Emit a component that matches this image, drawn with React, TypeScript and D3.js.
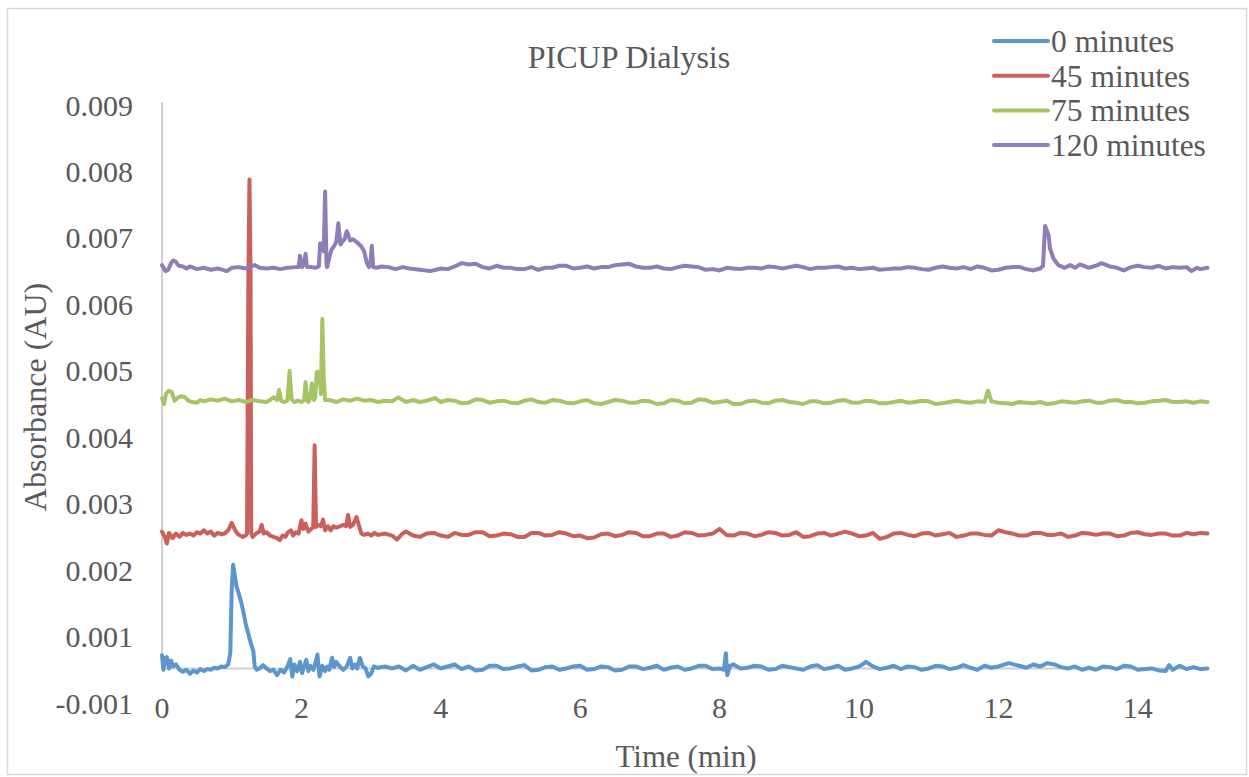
import React from "react";
import * as d3 from "d3";

// ---- Data: [time (min), absorbance (mAU = 0.001 AU)] ----
const seriesNames = ["0 minutes", "45 minutes", "75 minutes", "120 minutes"];
const seriesColors = ["#5B96CE", "#CB5F59", "#A6C466", "#8F7DB8"];

const s0: [number, number][] = [[0,0.72],[0.02,0.50],[0.05,0.68],[0.07,0.69],[0.1,0.52],[0.13,0.64],[0.16,0.55],[0.2,0.58],[0.25,0.50],[0.3,0.47],[0.35,0.50],[0.4,0.44],[0.45,0.49],[0.5,0.46],[0.55,0.51],[0.6,0.48],[0.65,0.51],[0.7,0.50],[0.75,0.53],[0.8,0.52],[0.85,0.55],[0.9,0.54],[0.95,0.58],[0.98,0.75],[1.0,1.7],[1.02,2.08],[1.04,1.95],[1.07,1.75],[1.1,1.65],[1.14,1.5],[1.17,1.36],[1.19,1.25],[1.21,1.15],[1.24,1.04],[1.26,0.95],[1.29,0.85],[1.31,0.78],[1.33,0.55],[1.36,0.50],[1.4,0.52],[1.45,0.57],[1.5,0.52],[1.55,0.48],[1.6,0.50],[1.65,0.42],[1.7,0.50],[1.75,0.46],[1.8,0.55],[1.84,0.66],[1.87,0.40],[1.9,0.58],[1.94,0.48],[1.98,0.62],[2.01,0.45],[2.04,0.56],[2.07,0.65],[2.1,0.48],[2.13,0.56],[2.17,0.50],[2.2,0.60],[2.23,0.73],[2.26,0.40],[2.3,0.56],[2.34,0.48],[2.37,0.55],[2.4,0.50],[2.44,0.68],[2.47,0.54],[2.5,0.62],[2.55,0.55],[2.6,0.50],[2.65,0.55],[2.7,0.68],[2.73,0.52],[2.77,0.58],[2.8,0.52],[2.84,0.68],[2.88,0.55],[2.92,0.52],[2.96,0.40],[3.0,0.44],[3.04,0.55],[3.1,0.53],[3.2,0.55],[3.3,0.52],[3.4,0.55],
[3.5,0.49],[3.6,0.56],[3.7,0.50],[3.8,0.54],[3.9,0.58],[4.0,0.52],[4.1,0.55],[4.2,0.58],[4.3,0.51],[4.4,0.55],[4.5,0.49],[4.6,0.50],[4.7,0.56],[4.8,0.56],[4.9,0.51],[5.0,0.52],[5.1,0.55],[5.2,0.57],[5.3,0.49],[5.4,0.50],[5.5,0.54],[5.6,0.55],[5.7,0.50],[5.8,0.52],[5.9,0.55],[6.0,0.56],[6.1,0.50],[6.2,0.51],[6.3,0.55],[6.4,0.54],[6.5,0.49],[6.6,0.50],[6.7,0.55],[6.8,0.55],[6.9,0.51],[7.0,0.53],[7.1,0.56],[7.2,0.50],[7.3,0.53],[7.4,0.55],[7.5,0.50],[7.6,0.52],[7.7,0.56],[7.8,0.56],[7.9,0.51],[8.0,0.52],[8.06,0.50],[8.09,0.75],[8.11,0.42],[8.15,0.56],[8.2,0.58],[8.3,0.52],[8.4,0.53],[8.5,0.56],[8.6,0.55],[8.7,0.50],[8.8,0.51],[8.9,0.56],[9.0,0.54],[9.1,0.52],[9.2,0.50],[9.3,0.55],[9.4,0.57],[9.5,0.51],[9.6,0.53],[9.7,0.56],[9.8,0.50],[9.9,0.52],[10.0,0.55],[10.05,0.58],[10.1,0.62],[10.2,0.55],[10.3,0.51],[10.4,0.53],[10.5,0.56],[10.6,0.51],[10.7,0.55],[10.8,0.54],[10.9,0.50],[11.0,0.52],[11.1,0.56],[11.2,0.55],[11.3,0.51],[11.4,0.53],[11.5,0.57],[11.6,0.53],[11.7,0.50],[11.8,0.56],[11.9,0.53],[12.0,0.55],[12.15,0.60],[12.3,0.56],[12.4,0.53],[12.5,0.58],[12.6,0.55],[12.7,0.60],[12.8,0.58],[12.9,0.54],[13.0,0.52],[13.1,0.55],[13.2,0.50],[13.3,0.53],[13.4,0.50],[13.5,0.55],[13.6,0.54],[13.7,0.51],[13.8,0.56],[13.9,0.55],[14.0,0.50],[14.1,0.51],[14.2,0.52],[14.3,0.49],[14.4,0.48],[14.45,0.57],[14.5,0.50],[14.6,0.56],[14.7,0.51],[14.8,0.54],[14.9,0.51],[15.0,0.52]];

const s45: [number, number][] = [[0,2.58],[0.04,2.50],[0.07,2.40],[0.1,2.56],[0.15,2.48],[0.2,2.55],[0.25,2.50],[0.3,2.56],[0.35,2.53],[0.4,2.55],[0.45,2.52],[0.5,2.57],[0.55,2.55],[0.6,2.60],[0.65,2.55],[0.7,2.58],[0.75,2.52],[0.8,2.56],[0.85,2.54],[0.9,2.55],[0.95,2.60],[1.0,2.71],[1.04,2.62],[1.08,2.55],[1.12,2.52],[1.16,2.50],[1.2,2.52],[1.22,2.55],[1.24,6.5],[1.255,7.88],[1.27,6.5],[1.28,2.55],[1.3,2.50],[1.35,2.55],[1.4,2.58],[1.43,2.68],[1.46,2.55],[1.5,2.57],[1.55,2.52],[1.6,2.50],[1.65,2.48],[1.69,2.45],[1.73,2.52],[1.77,2.50],[1.8,2.56],[1.85,2.60],[1.88,2.52],[1.92,2.57],[1.96,2.55],[2.0,2.75],[2.03,2.62],[2.06,2.70],[2.1,2.58],[2.14,2.62],[2.17,2.64],[2.19,3.88],[2.21,2.65],[2.24,2.68],[2.28,2.66],[2.31,2.76],[2.34,2.60],[2.38,2.66],[2.42,2.60],[2.46,2.66],[2.5,2.64],[2.55,2.66],[2.6,2.68],[2.64,2.66],[2.67,2.83],[2.7,2.65],[2.74,2.68],[2.79,2.80],[2.83,2.66],[2.86,2.55],[2.9,2.53],[2.95,2.55],[3.0,2.52],[3.05,2.56],[3.1,2.53],[3.2,2.55],[3.3,2.52],[3.37,2.46],[3.45,2.55],
[3.5,2.58],[3.6,2.52],[3.7,2.50],[3.8,2.55],[3.9,2.56],[4.0,2.52],[4.1,2.50],[4.2,2.56],[4.3,2.53],[4.4,2.53],[4.5,2.57],[4.6,2.57],[4.7,2.51],[4.8,2.52],[4.9,2.55],[5.0,2.54],[5.1,2.50],[5.2,2.50],[5.3,2.56],[5.4,2.56],[5.5,2.52],[5.6,2.53],[5.7,2.57],[5.8,2.55],[5.9,2.51],[6.0,2.52],[6.1,2.48],[6.2,2.49],[6.3,2.54],[6.4,2.55],[6.5,2.51],[6.6,2.53],[6.7,2.57],[6.8,2.56],[6.9,2.51],[7.0,2.51],[7.1,2.55],[7.2,2.55],[7.3,2.50],[7.4,2.52],[7.5,2.57],[7.6,2.56],[7.7,2.52],[7.8,2.53],[7.9,2.55],[8.0,2.62],[8.1,2.53],[8.2,2.52],[8.3,2.56],[8.4,2.55],[8.5,2.51],[8.6,2.53],[8.7,2.57],[8.8,2.56],[8.9,2.52],[9.0,2.53],[9.1,2.57],[9.2,2.50],[9.3,2.51],[9.4,2.55],[9.5,2.56],[9.6,2.52],[9.7,2.55],[9.8,2.58],[9.9,2.55],[10.0,2.51],[10.1,2.52],[10.2,2.56],[10.3,2.47],[10.4,2.50],[10.5,2.55],[10.6,2.56],[10.7,2.53],[10.8,2.51],[10.9,2.55],[11.0,2.56],[11.1,2.52],[11.2,2.54],[11.3,2.56],[11.4,2.50],[11.5,2.52],[11.6,2.55],[11.7,2.55],[11.8,2.53],[11.9,2.52],[12.0,2.60],[12.1,2.57],[12.2,2.55],[12.3,2.52],[12.4,2.52],[12.5,2.56],[12.6,2.56],[12.7,2.53],[12.8,2.53],[12.9,2.55],[13.0,2.50],[13.1,2.52],[13.2,2.56],[13.3,2.55],[13.4,2.53],[13.5,2.55],[13.6,2.55],[13.7,2.51],[13.8,2.52],[13.9,2.56],[14.0,2.57],[14.1,2.54],[14.2,2.53],[14.3,2.55],[14.4,2.55],[14.5,2.52],[14.6,2.52],[14.7,2.56],[14.8,2.54],[14.9,2.56],[15.0,2.55]];

const s75: [number, number][] = [[0,4.59],[0.03,4.50],[0.06,4.66],[0.1,4.70],[0.14,4.68],[0.18,4.55],[0.23,4.60],[0.28,4.62],[0.33,4.60],[0.38,4.55],[0.43,4.53],[0.5,4.52],[0.55,4.56],[0.6,4.54],[0.7,4.57],[0.8,4.55],[0.9,4.58],[1.0,4.54],[1.1,4.56],[1.2,4.53],[1.3,4.56],[1.4,4.54],[1.5,4.53],[1.55,4.56],[1.6,4.60],[1.65,4.56],[1.68,4.71],[1.71,4.55],[1.75,4.53],[1.8,4.55],[1.83,5.0],[1.86,4.57],[1.9,4.53],[1.95,4.55],[2.0,4.53],[2.04,4.56],[2.06,4.83],[2.08,4.56],[2.1,4.53],[2.12,4.57],[2.15,4.81],[2.18,4.56],[2.2,4.60],[2.22,4.98],[2.26,4.98],[2.28,4.65],[2.3,5.78],[2.32,4.90],[2.34,4.56],[2.4,4.56],[2.5,4.53],[2.6,4.57],[2.7,4.55],[2.8,4.58],[2.9,4.55],[3.0,4.56],[3.1,4.53],[3.2,4.55],[3.3,4.54],[3.39,4.60],[3.5,4.53],[3.6,4.56],[3.7,4.53],[3.8,4.55],[3.92,4.59],[4.0,4.53],
[4.1,4.56],[4.2,4.55],[4.3,4.51],[4.4,4.52],[4.5,4.57],[4.6,4.56],[4.7,4.52],[4.8,4.54],[4.9,4.55],[5.0,4.52],[5.1,4.51],[5.2,4.55],[5.3,4.57],[5.4,4.53],[5.5,4.52],[5.6,4.56],[5.7,4.55],[5.8,4.52],[5.9,4.51],[6.0,4.54],[6.1,4.56],[6.2,4.51],[6.3,4.50],[6.4,4.53],[6.5,4.56],[6.6,4.55],[6.7,4.52],[6.8,4.52],[6.9,4.55],[7.0,4.54],[7.1,4.50],[7.2,4.51],[7.3,4.56],[7.4,4.55],[7.5,4.51],[7.6,4.52],[7.7,4.57],[7.8,4.56],[7.9,4.52],[8.0,4.53],[8.1,4.55],[8.2,4.50],[8.3,4.50],[8.4,4.54],[8.5,4.55],[8.6,4.52],[8.7,4.51],[8.8,4.55],[8.9,4.56],[9.0,4.53],[9.1,4.52],[9.2,4.50],[9.3,4.54],[9.4,4.54],[9.5,4.51],[9.6,4.52],[9.7,4.55],[9.8,4.56],[9.9,4.52],[10.0,4.52],[10.1,4.55],[10.2,4.54],[10.3,4.51],[10.4,4.51],[10.5,4.53],[10.6,4.55],[10.7,4.52],[10.8,4.53],[10.9,4.55],[11.0,4.54],[11.1,4.50],[11.2,4.51],[11.3,4.53],[11.4,4.55],[11.5,4.53],[11.6,4.52],[11.7,4.54],[11.8,4.53],[11.85,4.70],[11.9,4.54],[12.0,4.52],[12.1,4.51],[12.2,4.50],[12.3,4.53],[12.4,4.52],[12.5,4.51],[12.6,4.53],[12.7,4.50],[12.8,4.51],[12.9,4.54],[13.0,4.53],[13.1,4.52],[13.2,4.54],[13.3,4.55],[13.4,4.52],[13.5,4.52],[13.6,4.55],[13.7,4.56],[13.8,4.53],[13.9,4.53],[14.0,4.51],[14.1,4.52],[14.2,4.54],[14.3,4.55],[14.4,4.56],[14.5,4.53],[14.6,4.53],[14.7,4.54],[14.8,4.52],[14.9,4.54],[15.0,4.53]];

const s120: [number, number][] = [[0,6.59],[0.05,6.50],[0.09,6.52],[0.13,6.62],[0.16,6.66],[0.2,6.64],[0.24,6.58],[0.3,6.57],[0.35,6.54],[0.4,6.57],[0.5,6.53],[0.6,6.55],[0.7,6.52],[0.8,6.54],[0.93,6.50],[1.0,6.55],[1.1,6.56],[1.2,6.54],[1.33,6.59],[1.4,6.55],[1.5,6.54],[1.6,6.55],[1.7,6.53],[1.8,6.55],[1.93,6.56],[1.96,6.56],[1.98,6.73],[2.01,6.56],[2.04,6.62],[2.06,6.76],[2.08,6.56],[2.15,6.56],[2.2,6.55],[2.25,6.57],[2.27,6.92],[2.3,6.88],[2.32,6.80],[2.34,7.70],[2.36,6.60],[2.37,6.56],[2.4,6.70],[2.43,6.82],[2.47,6.88],[2.5,6.94],[2.53,7.22],[2.56,6.90],[2.6,6.96],[2.62,6.98],[2.65,7.10],[2.67,7.05],[2.7,6.96],[2.74,6.98],[2.79,6.94],[2.83,6.90],[2.86,6.87],[2.9,6.80],[2.94,6.62],[2.97,6.56],[2.99,6.60],[3.01,6.88],[3.03,6.56],[3.08,6.55],[3.15,6.57],[3.25,6.56],[3.35,6.53],[3.45,6.56],[3.55,6.54],[3.7,6.52],[3.85,6.50],[4.0,6.54],
[4.1,6.53],[4.2,6.57],[4.3,6.62],[4.4,6.60],[4.5,6.61],[4.6,6.56],[4.7,6.54],[4.8,6.58],[4.9,6.55],[5.0,6.55],[5.1,6.53],[5.2,6.53],[5.3,6.56],[5.4,6.52],[5.5,6.55],[5.6,6.55],[5.7,6.58],[5.8,6.58],[5.9,6.54],[6.0,6.55],[6.1,6.57],[6.2,6.54],[6.3,6.56],[6.4,6.56],[6.5,6.59],[6.6,6.60],[6.7,6.61],[6.8,6.57],[6.9,6.55],[7.0,6.55],[7.1,6.57],[7.2,6.54],[7.3,6.53],[7.4,6.56],[7.5,6.58],[7.6,6.57],[7.7,6.56],[7.8,6.52],[7.9,6.53],[8.0,6.51],[8.1,6.55],[8.2,6.54],[8.3,6.53],[8.4,6.55],[8.5,6.55],[8.6,6.54],[8.7,6.57],[8.8,6.56],[8.9,6.54],[9.0,6.56],[9.1,6.58],[9.2,6.56],[9.3,6.53],[9.4,6.55],[9.5,6.55],[9.6,6.56],[9.7,6.57],[9.8,6.54],[9.9,6.55],[10.0,6.53],[10.1,6.54],[10.2,6.55],[10.3,6.52],[10.4,6.53],[10.5,6.54],[10.6,6.54],[10.7,6.56],[10.8,6.55],[10.9,6.53],[11.0,6.52],[11.1,6.55],[11.2,6.57],[11.3,6.55],[11.4,6.54],[11.5,6.56],[11.6,6.53],[11.7,6.57],[11.8,6.55],[11.9,6.51],[12.0,6.52],[12.1,6.55],[12.2,6.56],[12.31,6.56],[12.4,6.53],[12.5,6.51],[12.6,6.54],[12.64,6.58],[12.67,7.18],[12.72,7.04],[12.74,6.84],[12.79,6.69],[12.86,6.59],[12.95,6.55],[13.03,6.59],[13.1,6.55],[13.17,6.60],[13.3,6.55],[13.4,6.58],[13.48,6.62],[13.6,6.57],[13.7,6.55],[13.8,6.51],[13.9,6.56],[14.0,6.58],[14.1,6.56],[14.2,6.55],[14.3,6.58],[14.4,6.54],[14.5,6.56],[14.6,6.55],[14.7,6.56],[14.77,6.50],[14.85,6.55],[14.9,6.53],[15.0,6.55]];

const seriesData = [s0, s45, s75, s120];

const xTicks = [0, 2, 4, 6, 8, 10, 12, 14];
const yTicks = [0.001, 0.002, 0.003, 0.004, 0.005, 0.006, 0.007, 0.008, 0.009];
const yBottomLabel = "-0.001";
const title = "PICUP Dialysis";
const xTitle = "Time (min)";
const yTitle = "Absorbance (AU)";

export default function App() {
  const W = 1249, H = 777;
  const x = d3.scaleLinear().domain([0, 15]).range([162, 1207.5]);
  const y = d3.scaleLinear().domain([0, 0.009]).range([703, 105]);
  const axisCross = 0.00052;
  const fs: React.CSSProperties = { fontFamily: '"Liberation Serif", "Times New Roman", serif' };
  const txt = "#595959";
  const line = d3.line<[number, number]>().x(d => x(d[0])).y(d => y(d[1] / 1000));

  return (
    <svg width={W} height={H} style={{ position: "absolute", left: 0, top: 0, background: "#fff" }}>
      <rect x={7.5} y={8.5} width={1239} height={766} fill="#fff" stroke="#D9D9D9" strokeWidth={1.5} />
      {/* axes */}
      <line x1={x(0)} x2={x(0)} y1={102} y2={y(axisCross)} stroke="#D0D0D0" strokeWidth={2} />
      <line x1={x(0)} x2={x(15)} y1={y(axisCross)} y2={y(axisCross)} stroke="#D0D0D0" strokeWidth={2} />
      {/* y tick labels */}
      {yTicks.map(v => (
        <text key={v} x={133} y={y(v)} dy="0.35em" textAnchor="end" fontSize={30} fill={txt} style={fs}>{d3.format(".3f")(v)}</text>
      ))}
      <text x={133} y={y(0)} dy="0.35em" textAnchor="end" fontSize={30} fill={txt} style={fs}>{yBottomLabel}</text>
      {/* x tick labels */}
      {xTicks.map(t => (
        <text key={t} x={x(t)} y={707} dy="0.35em" textAnchor="middle" fontSize={30} fill={txt} style={fs}>{t}</text>
      ))}
      {/* series */}
      {seriesData.map((pts, i) => (
        <path key={i} d={line(pts) || ""} fill="none" stroke={seriesColors[i]} strokeWidth={4} strokeLinejoin="round" strokeLinecap="round" />
      ))}
      {/* titles */}
      <text x={629} y={57} dy="0.35em" textAnchor="middle" fontSize={32} fill={txt} style={fs}>{title}</text>
      <text x={686} y={756} dy="0.35em" textAnchor="middle" fontSize={31} fill={txt} style={fs}>{xTitle}</text>
      <text transform={`translate(35,397) rotate(-90)`} dy="0.35em" textAnchor="middle" fontSize={32} fill={txt} style={fs}>{yTitle}</text>
      {/* legend */}
      {seriesNames.map((n, i) => {
        const ly = 41 + i * 34.7;
        return (
          <g key={n}>
            <line x1={994} x2={1048} y1={ly} y2={ly} stroke={seriesColors[i]} strokeWidth={4} strokeLinecap="round" />
            <text x={1051} y={ly} dy="0.35em" fontSize={31.5} fill={txt} style={fs}>{n}</text>
          </g>
        );
      })}
    </svg>
  );
}
